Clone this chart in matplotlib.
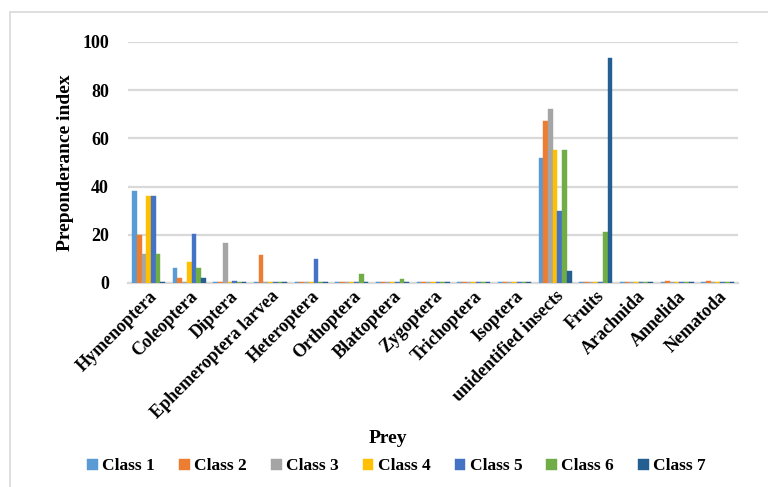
#Preponderance index of prey items for the seven classes.

import numpy as np
import matplotlib
import matplotlib.pyplot as plt
from matplotlib.patches import Rectangle

#Bold serif font for all text.
font = {'family': 'Liberation Serif',
        'weight': 'bold',
        'size': 12}
matplotlib.rc('font', **font)

#Prey categories.
prey = ["Hymenoptera", "Coleoptera", "Diptera", "Ephemeroptera larvea", "Heteroptera",
        "Orthoptera", "Blattoptera", "Zygoptera", "Trichoptera", "Isoptera",
        "unidentified insects", "Fruits", "Arachnida", "Annelida", "Nematoda"]

#Preponderance index for each class.
class1 = [38, 6, 0.3, 0.3, 0.3, 0.3, 0.3, 0.3, 0.3, 0.3, 52, 0.3, 0.3, 0.3, 0.3]
class2 = [20, 2, 0.3, 11.5, 0.3, 0.3, 0.3, 0.3, 0.3, 0.3, 67, 0.3, 0.6, 0.7, 0.7]
class3 = [12, 0.3, 16.5, 0.3, 0.3, 0.3, 0.3, 0.3, 0.3, 0.3, 72, 0.3, 0.3, 0.3, 0.3]
class4 = [36, 8.5, 0.3, 0.3, 0.3, 0.3, 0.3, 0.3, 0.3, 0.3, 55, 0.3, 0.3, 0.3, 0.3]
class5 = [36, 20.5, 1, 0.3, 10, 0.3, 0.3, 0.3, 0.6, 0.3, 30, 0.3, 0.3, 0.3, 0.3]
class6 = [12, 6, 0.3, 0.3, 0.3, 3.8, 1.5, 0.3, 0.3, 0.3, 55, 21, 0.3, 0.3, 0.3]
class7 = [0.3, 2, 0.3, 0.3, 0.3, 0.3, 0.3, 0.3, 0.3, 0.3, 5, 93.5, 0.3, 0.3, 0.3]

classes = [class1, class2, class3, class4, class5, class6, class7]
names = ["Class 1", "Class 2", "Class 3", "Class 4", "Class 5", "Class 6", "Class 7"]
colors = ["#5B9BD5", "#ED7D31", "#A5A5A5", "#FFC000", "#4472C4", "#70AD47", "#255E91"]

fig = plt.figure(figsize=(7.68, 4.87), dpi=100)
ax = fig.add_axes([0.167, 0.419, 0.794, 0.495])

#Light frame around the chart area.
fig.patches.append(Rectangle((10/768, -0.05), 1.0, 1 - 12/487 + 0.05,
                             transform=fig.transFigure, fill=False,
                             edgecolor="#D9D9D9", linewidth=1.2))

x = np.arange(len(prey))
w = 0.116
for i, (vals, name, col) in enumerate(zip(classes, names, colors)):
    ax.bar(x + (i - 3) * w, vals, w, color=col, label=name,
           edgecolor=col, linewidth=0.3, zorder=3)

ax.set_xlim(-0.5, len(prey) - 0.5)
ax.set_ylim(0, 100)
ax.set_yticks([0, 20, 40, 60, 80, 100])
ax.grid(axis='y', color="#D9D9D9", linewidth=1.6, zorder=0)
for s in ["top", "right", "left"]:
    ax.spines[s].set_visible(False)
ax.spines["bottom"].set_color("#D9D9D9")
ax.spines["bottom"].set_linewidth(1.6)
ax.tick_params(length=0, labelsize=13)
ax.tick_params(axis='y', pad=14)

ax.set_xticks(x)
ax.set_xticklabels(prey, rotation=45, ha='right', rotation_mode='anchor', fontsize=13)

ax.set_ylabel("Preponderance index", fontsize=14, fontweight='bold', labelpad=6)
fig.text(0.505, 0.10, "Prey", ha='center', va='center', fontsize=14, fontweight='bold')

ax.legend(loc='center', bbox_to_anchor=(0.44, -0.76), ncol=7, frameon=False,
          handlelength=0.6, handleheight=0.6, handletextpad=0.25, columnspacing=1.4,
          fontsize=12.5)

plt.savefig("out.png", dpi=100)
